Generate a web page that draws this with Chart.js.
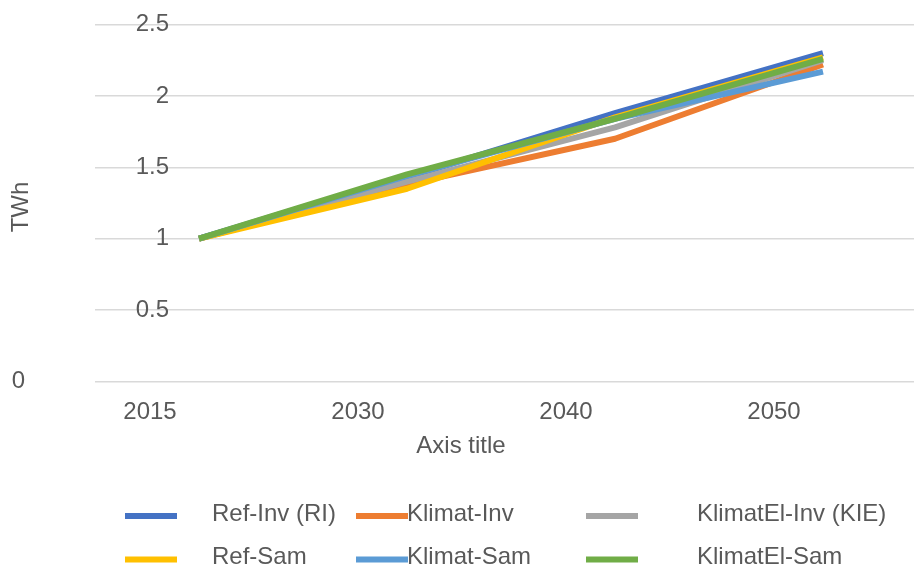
<!DOCTYPE html>
<html>
<head>
<meta charset="utf-8">
<script src="https://cdn.jsdelivr.net/npm/chart.js@4/dist/chart.umd.min.js"></script>
<style>
  html, body { margin: 0; padding: 0; background: #fff; overflow: hidden; }
  #wrap { width: 914px; height: 568px; overflow: hidden; position: relative; }
  canvas { display: block; }
</style>
</head>
<body>
<div id="wrap"><canvas id="c" width="928" height="568"></canvas></div>
<script>
// Years on the category axis
const years = ['2015', '2030', '2040', '2050'];

// Scenario names, in legend order
const seriesNames = ['Ref-Inv (RI)', 'Klimat-Inv', 'KlimatEl-Inv (KIE)', 'Ref-Sam', 'Klimat-Sam', 'KlimatEl-Sam'];

// TWh per scenario
const refInv      = [1.00, 1.43, 1.88, 2.30];
const klimatInv   = [1.00, 1.38, 1.70, 2.22];
const klimatElInv = [1.00, 1.40, 1.78, 2.25];
const refSam      = [1.00, 1.35, 1.85, 2.27];
const klimatSam   = [1.00, 1.44, 1.84, 2.17];
const klimatElSam = [1.00, 1.45, 1.84, 2.26];

// Value axis
const yMin = 0;
const yMax = 2.5;
const yStep = 0.5;

const seriesValues = [refInv, klimatInv, klimatElInv, refSam, klimatSam, klimatElSam];
const seriesColors = ['#4472C4', '#ED7D31', '#A5A5A5', '#FFC000', '#5B9BD5', '#70AD47'];

const FONT_FAMILY = '"Liberation Sans", Arial, Helvetica, sans-serif';
const FONT_SIZE = 24;
const TEXT_COLOR = '#595959';

// Legend grid: 3 columns x 2 rows
const legendLayout = {
  rowY: [516, 559.5],
  swatchX: [125, 356, 586],
  swatchLen: 52,
  textX: [212, 407, 697]
};

// Draws the value-axis labels, both axis titles and the legend
const chartTexts = {
  id: 'chartTexts',
  afterDraw(chart) {
    const ctx = chart.ctx;
    const y = chart.scales.y;
    ctx.save();
    ctx.font = FONT_SIZE + 'px ' + FONT_FAMILY;
    ctx.fillStyle = TEXT_COLOR;

    // value labels
    ctx.textAlign = 'right';
    ctx.textBaseline = 'middle';
    y.ticks.forEach(t => {
      const x = t.value === 0 ? 25 : 169;
      ctx.fillText(String(t.value), x, y.getPixelForValue(t.value));
    });

    // axis titles
    ctx.textAlign = 'center';
    ctx.fillText('Axis title', 461, 446);
    ctx.save();
    ctx.translate(21, 207);
    ctx.rotate(-Math.PI / 2);
    ctx.fillText('TWh', 0, 0);
    ctx.restore();

    // legend
    chart.data.datasets.forEach((ds, i) => {
      const col = i % 3;
      const row = Math.floor(i / 3);
      const ly = legendLayout.rowY[row];
      ctx.strokeStyle = ds.borderColor;
      ctx.lineWidth = 6;
      ctx.lineCap = 'butt';
      ctx.beginPath();
      ctx.moveTo(legendLayout.swatchX[col], ly);
      ctx.lineTo(legendLayout.swatchX[col] + legendLayout.swatchLen, ly);
      ctx.stroke();
      ctx.textAlign = 'left';
      ctx.fillStyle = TEXT_COLOR;
      ctx.fillText(ds.label, legendLayout.textX[col], ly - 2);
    });
    ctx.restore();
  }
};

new Chart(document.getElementById('c'), {
  type: 'line',
  data: {
    labels: years,
    datasets: seriesNames.map((name, i) => ({
      label: name,
      data: seriesValues[i],
      borderColor: seriesColors[i],
      backgroundColor: seriesColors[i],
      borderWidth: 6,
      pointRadius: 0,
      tension: 0,
      fill: false,
      borderCapStyle: 'butt',
      borderJoinStyle: 'round',
      order: seriesNames.length - i
    }))
  },
  options: {
    responsive: false,
    animation: false,
    devicePixelRatio: 1,
    layout: { padding: { top: 24.5, right: 1, left: 0, bottom: 0 } },
    plugins: {
      legend: { display: false },
      tooltip: { enabled: false },
      title: { display: false }
    },
    scales: {
      x: {
        type: 'category',
        offset: true,
        grid: { display: false, drawTicks: false },
        border: { display: false },
        ticks: {
          color: TEXT_COLOR,
          font: { family: FONT_FAMILY, size: FONT_SIZE },
          labelOffset: -49,
          padding: 16,
          maxRotation: 0,
          autoSkip: false
        },
        afterFit(scale) { scale.height = 186.5; }
      },
      y: {
        min: yMin,
        max: yMax,
        grid: { color: '#d9d9d9', lineWidth: 1.5, drawTicks: false },
        border: { display: false },
        ticks: { stepSize: yStep, display: false },
        afterFit(scale) { scale.width = 95; }
      }
    }
  },
  plugins: [chartTexts]
});
</script>
</body>
</html>
